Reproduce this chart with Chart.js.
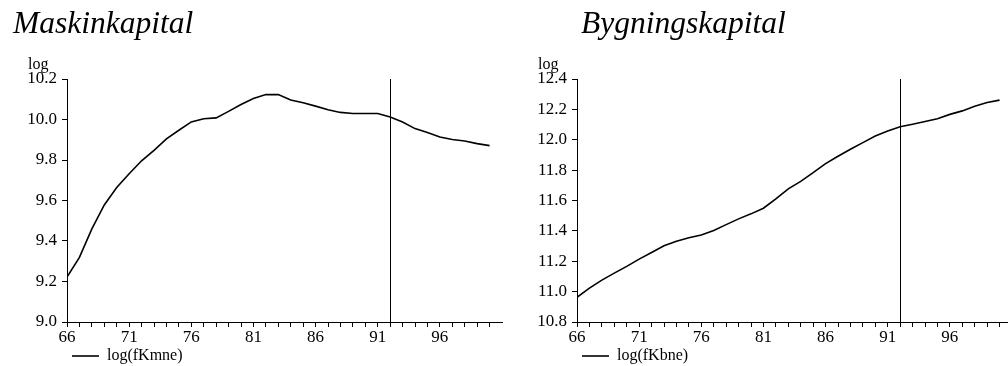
<!DOCTYPE html>
<html>
<head>
<meta charset="utf-8">
<script src="https://cdn.jsdelivr.net/npm/chart.js@4"></script>
<style>
  html, body { margin: 0; padding: 0; background: #fff; }
  body { width: 1008px; height: 366px; position: relative; overflow: hidden; }
  canvas { position: absolute; top: 0; }
  #maskin { left: 0; }
  #bygning { left: 510px; }
</style>
</head>
<body>
<canvas id="maskin" width="504" height="366"></canvas>
<canvas id="bygning" width="504" height="366"></canvas>
<script>
// Years on the x axis (19xx, 100 = 2000)
const YEARS = [66, 67, 68, 69, 70, 71, 72, 73, 74, 75, 76, 77, 78, 79, 80, 81, 82,
  83, 84, 85, 86, 87, 88, 89, 90, 91, 92, 93, 94, 95, 96, 97, 98, 99, 100];

// log of machinery capital stock
const MASKIN = [9.222, 9.319, 9.46, 9.578, 9.664, 9.732, 9.796, 9.848, 9.904, 9.947,
  9.988, 10.004, 10.008, 10.04, 10.074, 10.104, 10.123, 10.123, 10.096, 10.083,
  10.066, 10.048, 10.035, 10.03, 10.03, 10.03, 10.012, 9.988, 9.955, 9.936,
  9.914, 9.901, 9.894, 9.881, 9.871];

// log of building capital stock
const BYGNING = [10.963, 11.023, 11.076, 11.122, 11.166, 11.214, 11.258, 11.302, 11.331, 11.355,
  11.373, 11.402, 11.441, 11.479, 11.512, 11.549, 11.611, 11.677, 11.726, 11.783,
  11.843, 11.891, 11.937, 11.981, 12.025, 12.058, 12.085, 12.102, 12.12, 12.138,
  12.167, 12.19, 12.221, 12.245, 12.261];

const X_MIN = 66;
const X_MAX = 101;
const FORECAST_START = 92;
const SERIF = "'Liberation Serif', 'Times New Roman', serif";

// Panel heading, the "log" unit above the y axis and the forecast divider.
const panelDecor = {
  id: "panelDecor",
  afterDraw(chart, args, opts) {
    const { ctx, chartArea, scales } = chart;
    ctx.save();
    ctx.fillStyle = "#000";
    ctx.textBaseline = "alphabetic";
    ctx.textAlign = "left";
    ctx.font = "italic 31.5px " + SERIF;
    ctx.fillText(opts.title, opts.titleX, 33);
    ctx.font = "16px " + SERIF;
    ctx.fillText("log", chartArea.left - 39, 69);

    const x = Math.round(scales.x.getPixelForValue(FORECAST_START)) + 0.5;
    ctx.strokeStyle = "#000";
    ctx.lineWidth = 1;
    ctx.beginPath();
    ctx.moveTo(x, chartArea.top);
    ctx.lineTo(x, chartArea.bottom);
    ctx.stroke();
    ctx.restore();
  },
};

function makePanel(canvasId, title, titleX, label, values, yMin, yMax) {
  return new Chart(document.getElementById(canvasId), {
    type: "line",
    data: {
      datasets: [{
        label,
        data: YEARS.map((yr, i) => ({ x: yr, y: values[i] })),
        borderColor: "#000",
        borderWidth: 1.6,
        pointRadius: 0,
        tension: 0,
      }],
    },
    options: {
      responsive: false,
      animation: false,
      layout: { padding: { left: 0, right: 2, top: 79, bottom: -8 } },
      scales: {
        x: {
          type: "linear",
          min: X_MIN,
          max: X_MAX,
          afterBuildTicks: (scale) => {
            const ticks = [];
            for (const yr of YEARS) ticks.push({ value: yr });
            scale.ticks = ticks;
          },
          afterFit: (scale) => { scale.height = 21; },
          border: { color: "#000", width: 1 },
          grid: { drawOnChartArea: false, drawTicks: true, tickLength: 5, color: "#000" },
          ticks: {
            autoSkip: false,
            maxRotation: 0,
            padding: 0,
            color: "#000",
            font: { family: SERIF, size: 17 },
            callback: (v) => ((v - X_MIN) % 5 === 0 ? String(v) : ""),
          },
        },
        y: {
          min: yMin,
          max: yMax,
          afterFit: (scale) => { scale.width = 67; },
          border: { color: "#000", width: 1 },
          grid: { drawOnChartArea: false, drawTicks: true, tickLength: 5, color: "#000" },
          ticks: {
            stepSize: 0.2,
            padding: 5,
            color: "#000",
            font: { family: SERIF, size: 17 },
            callback: (v) => v.toFixed(1),
          },
        },
      },
      plugins: {
        legend: {
          position: "bottom",
          align: "start",
          fullSize: false,
          labels: {
            usePointStyle: true,
            pointStyle: "line",
            pointStyleWidth: 27,
            padding: 5,
            color: "#000",
            font: { family: SERIF, size: 16 },
          },
        },
        tooltip: { enabled: false },
        panelDecor: { title, titleX },
      },
    },
    plugins: [panelDecor],
  });
}

makePanel("maskin", "Maskinkapital", 13, "log(fKmne)", MASKIN, 9.0, 10.2);
makePanel("bygning", "Bygningskapital", 71, "log(fKbne)", BYGNING, 10.8, 12.4);
</script>
</body>
</html>
